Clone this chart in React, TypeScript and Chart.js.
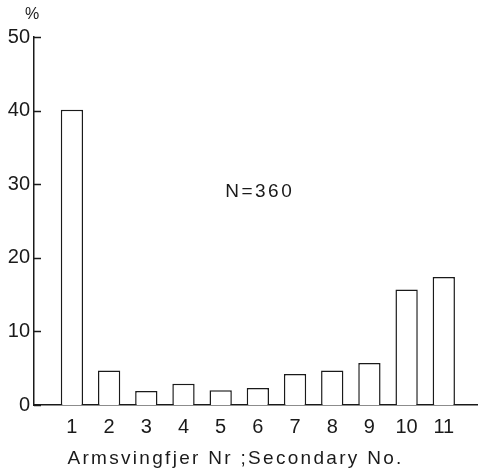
import React, { useEffect, useRef } from "react";
import { Chart, registerables } from "chart.js";

Chart.register(...registerables);

const categories = [1, 2, 3, 4, 5, 6, 7, 8, 9, 10, 11];
const percentages = [40.1, 4.7, 1.9, 2.9, 2.0, 2.3, 4.2, 4.7, 5.7, 15.7, 17.4];
const yTickValues = [0, 10, 20, 30, 40, 50];
const annotationText = "N=360";
const axisTitle = "Armsvingfjer Nr ;Secondary No.";
const unitLabel = "%";

const INK = "#1a1a1a";
const FONT = "'Liberation Sans', Arial, sans-serif";

export default function App() {
  const ref = useRef<HTMLCanvasElement | null>(null);

  useEffect(() => {
    const canvas = ref.current;
    if (!canvas) return;

    const decor = {
      id: "decor",
      afterDraw(chart: any) {
        const { ctx, chartArea } = chart;
        const xs = chart.scales.x;
        const ys = chart.scales.y;
        ctx.save();
        ctx.strokeStyle = INK;
        ctx.lineWidth = 1.5;
        for (const v of yTickValues) {
          const py = Math.round(ys.getPixelForValue(v)) + 0.5;
          ctx.beginPath();
          ctx.moveTo(chartArea.left, py);
          ctx.lineTo(chartArea.left + 7, py);
          ctx.stroke();
        }
        ctx.fillStyle = INK;
        ctx.textAlign = "center";
        ctx.textBaseline = "middle";
        ctx.font = `19px ${FONT}`;
        (ctx as any).letterSpacing = "2.5px";
        ctx.fillText(annotationText, xs.getPixelForValue(6.05), ys.getPixelForValue(29));
        (ctx as any).letterSpacing = "2.3px";
        ctx.fillText(axisTitle, xs.getPixelForValue(5.4), 459);
        (ctx as any).letterSpacing = "0px";
        ctx.font = `16px ${FONT}`;
        ctx.fillText(unitLabel, chartArea.left - 2, chartArea.top - 22);
        ctx.restore();
      },
    };

    const chart = new Chart(canvas, {
      type: "bar",
      data: {
        datasets: [
          {
            data: categories.map((c, i) => ({ x: c, y: percentages[i] })),
            backgroundColor: "#ffffff",
            borderColor: INK,
            borderWidth: 1.5,
            barPercentage: 0.6,
            categoryPercentage: 1,
          },
        ],
      },
      options: {
        animation: false,
        responsive: true,
        maintainAspectRatio: false,
        layout: { padding: { top: 37, right: 0, left: 0, bottom: 0 } },
        plugins: { legend: { display: false }, tooltip: { enabled: false } },
        scales: {
          x: {
            type: "linear",
            offset: false,
            min: -0.02,
            max: 11.92,
            grid: { display: false, drawTicks: false, offset: false },
            border: { display: true, color: INK, width: 1.5 },
            afterBuildTicks: (s: any) => {
              s.ticks = categories.map((c) => ({ value: c }));
            },
            ticks: {
              autoSkip: false,
              maxRotation: 0,
              padding: 10,
              color: INK,
              font: { size: 20, family: FONT },
              callback: (v: any) => String(v),
            },
            afterFit: (s: any) => {
              s.height = 65;
              s.paddingLeft = 0;
              s.paddingRight = 0;
            },
          },
          y: {
            min: 0,
            max: 50,
            grid: { display: false, drawTicks: false },
            border: { display: true, color: INK, width: 1.5 },
            ticks: {
              stepSize: 10,
              padding: 4,
              color: INK,
              font: { size: 20, family: FONT },
            },
            afterFit: (s: any) => {
              s.width = 34;
            },
          },
        },
      },
      plugins: [decor],
    });

    return () => chart.destroy();
  }, []);

  return (
    <div style={{ position: "absolute", left: 0, top: 0, width: 478, height: 470, background: "#fff" }}>
      <canvas ref={ref} />
    </div>
  );
}
